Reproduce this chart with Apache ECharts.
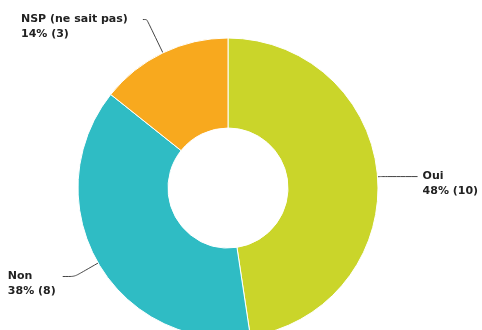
<!DOCTYPE html>
<html>
<head>
<meta charset="utf-8">
<script src="https://cdn.jsdelivr.net/npm/echarts@6/dist/echarts.min.js"></script>
<style>
html,body{margin:0;padding:0;background:#fff;}
#chart{width:482px;height:330px;}
</style>
</head>
<body>
<div id="chart"></div>
<script>
var categories = ['Oui', 'Non', 'NSP (ne sait pas)'];
var counts = [10, 8, 3];
var sliceColors = ['#cad52a', '#2fbcc4', '#f8a91e'];
var lineLengths = [[3, 37], [27, 12], [37, 4]];
var labelGaps = [5, 7, 15];

var chart = echarts.init(document.getElementById('chart'), null, {renderer: 'canvas'});
var data = categories.map(function (name, i) {
  return {
    name: name,
    value: counts[i],
    itemStyle: {color: sliceColors[i]},
    labelLine: {length: lineLengths[i][0], length2: lineLengths[i][1]},
    label: {distanceToLabelLine: labelGaps[i]}
  };
});
var txt = {
  align: 'left',
  fontFamily: 'DejaVu Sans',
  fontWeight: 'bold',
  fontSize: 11,
  lineHeight: 15,
  color: '#222'
};
chart.setOption({
  animation: false,
  series: [{
    type: 'pie',
    center: [228, 188],
    radius: [60, 150],
    startAngle: 90,
    clockwise: true,
    avoidLabelOverlap: false,
    itemStyle: {borderColor: '#ffffff', borderWidth: 1},
    label: {
      show: true,
      position: 'outside',
      fontFamily: 'DejaVu Sans',
      fontWeight: 'bold',
      fontSize: 11,
      lineHeight: 15,
      color: '#222',
      rich: {a: txt},
      formatter: function (p) {
        return '{a| }\n{a|' + p.name + '}\n{a|' + Math.round(p.percent) + '% (' + p.value + ')}';
      }
    },
    labelLine: {
      show: true,
      smooth: 0.2,
      lineStyle: {color: '#444', width: 1}
    },
    emphasis: {disabled: true},
    data: data
  }]
});
</script>
</body>
</html>
